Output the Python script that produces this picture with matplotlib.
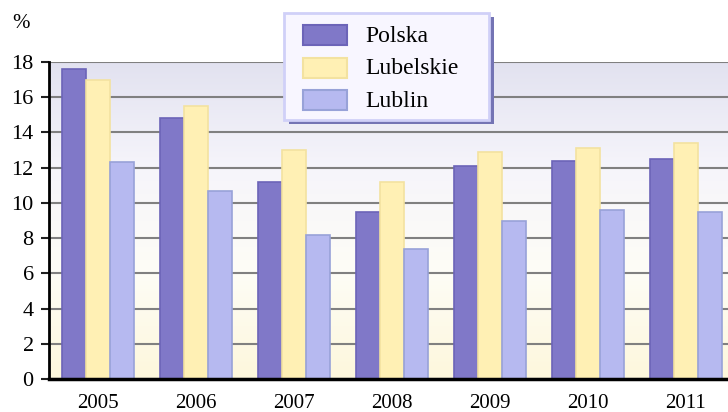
import matplotlib
matplotlib.use("Agg")
import matplotlib.pyplot as plt
import numpy as np
from matplotlib.patches import Rectangle
from matplotlib.colors import LinearSegmentedColormap

years = ["2005", "2006", "2007", "2008", "2009", "2010", "2011"]
polska = [17.6, 14.8, 11.2, 9.5, 12.1, 12.4, 12.5]
lubelskie = [17.0, 15.5, 13.0, 11.2, 12.9, 13.1, 13.4]
lublin = [12.3, 10.7, 8.2, 7.4, 9.0, 9.6, 9.5]
series_names = ["Polska", "Lubelskie", "Lublin"]
yticks = [0, 2, 4, 6, 8, 10, 12, 14, 16, 18]

plt.rcParams['font.family'] = ['Liberation Serif', 'DejaVu Serif']

W, H = 728, 412
fig = plt.figure(figsize=(W / 100, H / 100), dpi=100)
left, right = 49, 735
top, bottom = 62, 379
ax = fig.add_axes([left / W, 1 - bottom / H, (right - left) / W, (bottom - top) / H])

# gradient background
cmap = LinearSegmentedColormap.from_list("bg", ["#fdf7dc", "#fefdf6", "#f6f5fb", "#e2e2f0"])
grad = np.linspace(0, 1, 256).reshape(-1, 1)
ax.imshow(grad, aspect="auto", cmap=cmap, origin="lower",
          extent=[-0.5, len(years) - 0.5, 0, 18], zorder=0)

x = np.arange(len(years))
bw = 0.242
faces = ["#8078c8", "#fff0b4", "#b6b9f0"]
edges = ["#6c64b8", "#f3e2a0", "#98a2d8"]
for i, (vals, fc, ec) in enumerate(zip([polska, lubelskie, lublin], faces, edges)):
    ax.bar(x + (i - 1) * bw, vals, bw, color=fc, edgecolor=ec, linewidth=1.2,
           zorder=3, label=series_names[i])

ax.set_xlim(-0.5, len(years) - 0.5)
ax.set_ylim(0, 18)
ax.set_yticks(yticks)
ax.set_yticklabels([str(v) for v in yticks], fontsize=16)
ax.set_xticks(x)
ax.set_xticklabels(years, fontsize=15)
ax.yaxis.grid(True, color="#808080", linewidth=1.5, zorder=1)
ax.set_axisbelow(True)
ax.tick_params(axis="x", length=0, pad=11)
ax.tick_params(axis="y", length=6, width=1.5, color="#202020", pad=5, direction="out")
for s in ["top", "right"]:
    ax.spines[s].set_visible(False)
ax.spines["left"].set_linewidth(2)
ax.spines["bottom"].set_linewidth(2.5)
ax.spines["bottom"].set_zorder(5)

fig.text(12 / W, 1 - 23 / H, "%", fontsize=15, va="center", ha="left")

# legend with shadow
lx0, ly0, lw, lh = 284, 13, 205, 107
shadow = Rectangle(((lx0 + 5) / W, 1 - (ly0 + lh + 4) / H), lw / W, lh / H,
                   transform=fig.transFigure, facecolor="#7474b4", edgecolor="none", zorder=10)
fig.patches.append(shadow)
box = Rectangle((lx0 / W, 1 - (ly0 + lh) / H), lw / W, lh / H,
                transform=fig.transFigure, facecolor="#f8f6ff", edgecolor="#d0d0f8",
                linewidth=2, zorder=11)
fig.patches.append(box)
for i, name in enumerate(series_names):
    cy = 35 + i * 32.5
    p = Rectangle(((lx0 + 19) / W, 1 - (cy + 10) / H), 44 / W, 20 / H,
                  transform=fig.transFigure, facecolor=faces[i], edgecolor=edges[i],
                  linewidth=1.5, zorder=12)
    fig.patches.append(p)
    fig.text((lx0 + 81) / W, 1 - (cy + 1.5) / H, name, fontsize=17, va="center", ha="left", zorder=13)

fig.savefig("out.png", dpi=100)
